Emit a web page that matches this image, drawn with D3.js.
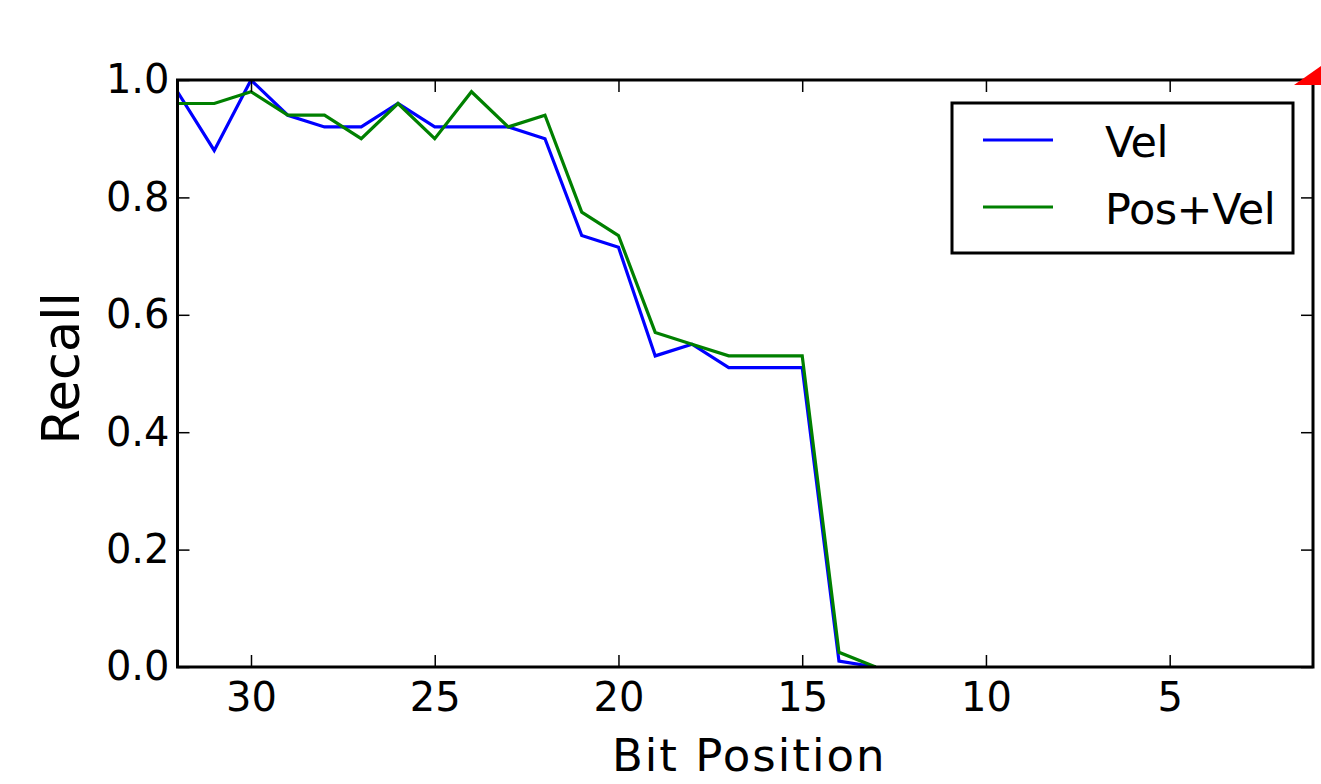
<!DOCTYPE html>
<html>
<head>
<meta charset="utf-8">
<script src="https://cdn.jsdelivr.net/npm/d3@7"></script>
<style>
  body { margin: 0; background: #fff; }
  svg { display: block; font-family: "DejaVu Sans", sans-serif; }
</style>
</head>
<body>
<svg id="chart"></svg>
<script>
'use strict';

// bit positions
var bits = [32, 31, 30, 29, 28, 27, 26, 25, 24, 23, 22, 21, 20, 19, 18, 17, 16, 15, 14, 13];
var velRecall = [0.98, 0.88, 1.0, 0.94, 0.92, 0.92, 0.96, 0.92, 0.92, 0.92, 0.90, 0.735, 0.715, 0.53, 0.55, 0.51, 0.51, 0.51, 0.01, 0.0];
var posVelRecall = [0.96, 0.96, 0.98, 0.94, 0.94, 0.90, 0.96, 0.90, 0.98, 0.92, 0.94, 0.775, 0.735, 0.57, 0.55, 0.53, 0.53, 0.53, 0.025, 0.0];
var seriesNames = ["Vel", "Pos+Vel"];
var seriesColors = ["#0000ff", "#008000"];
var xTicks = [30, 25, 20, 15, 10, 5];
var yTicks = [0.0, 0.2, 0.4, 0.6, 0.8, 1.0];

var W = 1321, H = 784;
var margin = {top: 80, right: 8, bottom: 117, left: 177.5};
var plotW = W - margin.left - margin.right,
    plotH = H - margin.top - margin.bottom;

var svg = d3.select("#chart")
    .attr("width", W)
    .attr("height", H);

var x = d3.scaleLinear().domain([32, 1.1]).range([0, plotW]);
var y = d3.scaleLinear().domain([0, 1]).range([plotH, 0]);

var g = svg.append("g")
    .attr("transform", "translate(" + margin.left + "," + margin.top + ")");

g.append("clipPath").attr("id", "plotclip")
  .append("rect")
    .attr("width", plotW)
    .attr("height", plotH);

var line = d3.line()
    .x(function(d) { return x(d[0]); })
    .y(function(d) { return y(d[1]); });

var allSeries = [velRecall, posVelRecall];
allSeries.forEach(function(vals, i) {
  g.append("path")
      .datum(bits.map(function(b, j) { return [b, vals[j]]; }))
      .attr("clip-path", "url(#plotclip)")
      .attr("fill", "none")
      .attr("stroke", seriesColors[i])
      .attr("stroke-width", 3.2)
      .attr("stroke-linejoin", "miter")
      .attr("d", line);
});

// axes, ticks pointing inward on all four sides
var tickLen = 12;
function styleAxis(sel) {
  sel.select(".domain").remove();
  sel.selectAll(".tick line").attr("stroke", "#000").attr("stroke-width", 1.5);
  sel.selectAll(".tick text")
      .attr("font-family", "DejaVu Sans")
      .attr("font-size", "40px")
      .attr("fill", "#000");
}

g.append("g")
    .attr("transform", "translate(0," + plotH + ")")
    .call(d3.axisBottom(x).tickValues(xTicks).tickSize(-tickLen).tickPadding(16).tickFormat(d3.format("d")))
    .call(styleAxis);

g.append("g")
    .call(d3.axisTop(x).tickValues(xTicks).tickSize(-tickLen).tickFormat(""))
    .call(styleAxis);

g.append("g")
    .call(d3.axisLeft(y).tickValues(yTicks).tickSize(-tickLen).tickPadding(8).tickFormat(d3.format(".1f")))
    .call(styleAxis);

g.append("g")
    .attr("transform", "translate(" + plotW + ",0)")
    .call(d3.axisRight(y).tickValues(yTicks).tickSize(-tickLen).tickFormat(""))
    .call(styleAxis);

// frame
g.append("rect")
    .attr("width", plotW)
    .attr("height", plotH)
    .attr("fill", "none")
    .attr("stroke", "#000")
    .attr("stroke-width", 3);

// axis labels
svg.append("text")
    .attr("x", margin.left + plotW / 2 + 4)
    .attr("y", 771)
    .attr("text-anchor", "middle")
    .attr("font-size", "45px")
    .attr("letter-spacing", "2px")
    .attr("fill", "#000")
    .text("Bit Position");

svg.append("text")
    .attr("transform", "translate(79," + (margin.top + plotH / 2 - 5) + ") rotate(-90)")
    .attr("text-anchor", "middle")
    .attr("font-size", "51px")
    .attr("fill", "#000")
    .text("Recall");

// legend
var legend = svg.append("g").attr("transform", "translate(952,103)");
legend.append("rect")
    .attr("width", 341)
    .attr("height", 150)
    .attr("fill", "#fff")
    .attr("stroke", "#000")
    .attr("stroke-width", 3);

seriesNames.forEach(function(name, i) {
  var ly = 37 + i * 67;
  legend.append("line")
      .attr("x1", 31).attr("x2", 101)
      .attr("y1", ly).attr("y2", ly)
      .attr("stroke", seriesColors[i])
      .attr("stroke-width", 3);
  legend.append("text")
      .attr("x", 153)
      .attr("y", ly + 17)
      .attr("font-size", "43px")
      .attr("letter-spacing", "-0.5px")
      .attr("fill", "#000")
      .text(name);
});

// red arrow head poking in at the top right corner
var cx = margin.left + plotW, cy = margin.top;
svg.append("path")
    .attr("d", "M" + (cx - 19) + "," + (cy + 5) + "L" + W + "," + (cy + 5) + "L" + W + "," + (cy - 14) + "Z")
    .attr("fill", "#ff0000");
</script>
</body>
</html>
